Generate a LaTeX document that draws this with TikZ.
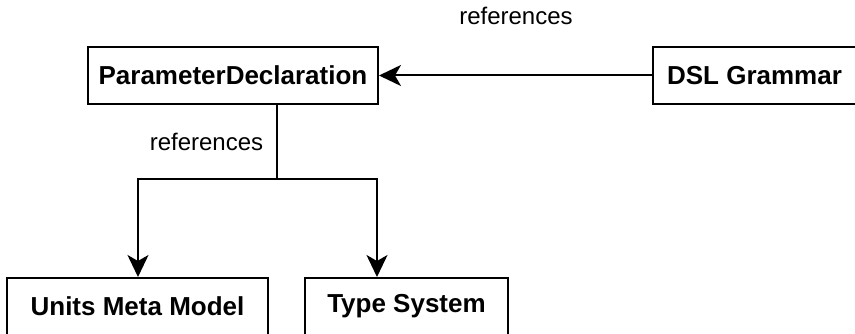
\documentclass[tikz,border=0pt]{standalone}
\usepackage{fontspec}
\setmainfont{Liberation Sans}
\usetikzlibrary{arrows.meta}
\begin{document}
\begin{tikzpicture}[x=1pt,y=-1pt,
  block/.style={draw=black, line width=2pt, fill=white, inner sep=0pt,
    font=\fontsize{26}{30}\selectfont\bfseries},
  conn/.style={draw=black, line width=2pt,
    -{Stealth[length=22pt,width=21pt,inset=6pt]}},
  wire/.style={draw=black, line width=2pt},
  lbl/.style={font=\fontsize{24}{28}\selectfont, inner sep=0pt}]
  \useasboundingbox (0,0) rectangle (855,334);

  % boxes
  \node[block, minimum width=290pt, minimum height=57pt] (pd) at (233,75.5) {ParameterDeclaration};
  \node[block, minimum width=203pt, minimum height=57pt] (dsl) at (754.5,75.5) {DSL Grammar};
  \node[block, minimum width=261pt, minimum height=57pt] (units) at (137.5,306.5) {Units Meta Model};
  \node[block, minimum width=203pt, minimum height=57pt] (types) at (406.5,306.5) {Type System};

  % grammar references the declaration
  \draw[conn] (dsl.west) -- (pd.east);
  \node[lbl] (lblTop) at (516,16) {references};

  % declaration references units and types
  \coordinate (split) at (277,179);
  \draw[wire] (pd.south -| split) -- (split);
  \node[lbl] (lblDown) at (206.5,142) {references};
  \draw[conn] (split) -| (units.north -| 138,0);
  \draw[conn] (split) -| (types.north -| 377,0);
\end{tikzpicture}
\end{document}
